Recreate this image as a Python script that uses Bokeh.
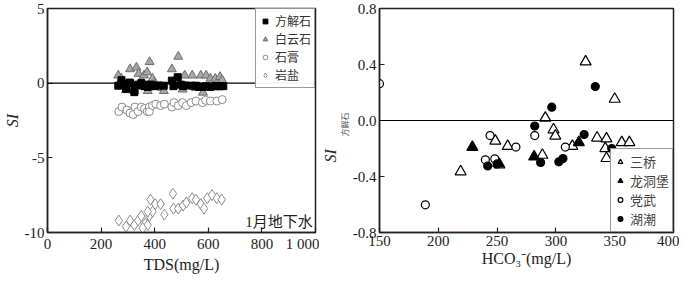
from bokeh.plotting import figure
from bokeh.models import Span, Label, Legend, LegendItem, FixedTicker, Title
from bokeh.layouts import row
from bokeh.embed import file_html
from bokeh.resources import INLINE

# ---------------- Panel (a) data ----------------
calcite_tds = [264, 276, 288, 293, 306, 308, 324, 324, 338, 348, 350, 362, 366, 374, 384, 388, 400, 414, 434,
               464, 470, 486, 498, 506, 513, 540, 554, 566, 580, 592, 608, 626, 636, 644, 656]
calcite_si = [-0.17, 0.2, -0.1, -0.38, 0.04, 0.0, -0.38, -0.6, -0.1, -0.15, 0.0, -0.2, -0.1, -0.25, -0.2, -0.1,
              -0.2, -0.15, -0.17, 0.17, -0.2, 0.4, -0.1, -0.2, -0.15, -0.17, -0.17, -0.25, -0.25, -0.2, -0.25,
              -0.2, -0.2, -0.2, -0.2]

dolomite_tds = [264, 276, 293, 308, 324, 332, 340, 350, 360, 365, 372, 374, 381, 384, 392, 400, 428, 434,
                464, 470, 488, 504, 512, 540, 554, 572, 580, 592, 608, 626, 644, 652]
dolomite_si = [0.52, 0.3, -0.46, 0.94, -0.52, 1.05, 0.63, 0.2, 0.52, -0.2, 0.73, -0.52, 1.42, -0.2, 0.31, 0.0,
               -0.31, -0.52, 0.94, 0.1, 1.78, -0.42, 0.52, 0.52, -0.31, 0.52, -0.63, 0.52, 0.31, 0.31, 0.42, 0.2]

gypsum_tds = [266, 278, 296, 308, 320, 326, 338, 350, 362, 372, 380, 380, 392, 404, 422, 436, 464, 472, 488,
              504, 518, 536, 554, 578, 590, 608, 632, 652]
gypsum_si = [-1.9, -1.6, -1.8, -2.0, -2.1, -1.6, -1.9, -1.6, -1.7, -1.9, -1.6, -1.9, -1.5, -1.4, -1.5, -1.4,
             -1.6, -1.3, -1.5, -1.3, -1.5, -1.3, -1.2, -1.3, -1.15, -1.2, -1.2, -1.1]

halite_tds = [266, 293, 308, 324, 338, 350, 365, 374, 380, 392, 384, 402, 422, 436, 468, 470, 488, 506, 518,
              540, 554, 572, 584, 596, 614, 632, 650, 374, 355]
halite_si = [-9.2, -9.6, -9.2, -9.5, -9.2, -8.9, -9.4, -9.5, -8.9, -8.6, -7.8, -8.1, -8.1, -8.8, -7.4, -8.4,
             -8.4, -8.2, -8.0, -7.7, -7.8, -8.1, -8.4, -7.7, -7.5, -7.7, -7.8, -8.6, -9.7]

x_ticks_a = [0, 200, 400, 600, 800, 1000]
x_labels_a = ["0", "200", "400", "600", "800", "1 000"]
y_ticks_a = [-10, -5, 0, 5]
y_labels_a = ["-10", "-5", "0", "5"]

# ---------------- Panel (b) data ----------------
sanqiao_hco3 = [219, 248.5, 252, 259, 288.5, 291, 298, 299.5, 314, 325.3, 335, 343, 342, 343, 350, 356, 362.5]
sanqiao_si = [-0.365, -0.146, -0.315, -0.184, -0.247, 0.018, -0.065, -0.11, -0.184, 0.42, -0.124, -0.13,
              -0.2, -0.27, 0.153, -0.157, -0.157]

longdongbao_hco3 = [229, 251, 281.5, 319.5]
longdongbao_si = [-0.19, -0.305, -0.259, -0.157]

dangwu_hco3 = [150, 189, 244, 240, 248, 266, 282, 308]
dangwu_si = [0.263, -0.602, -0.108, -0.281, -0.274, -0.19, -0.108, -0.19]

huchao_hco3 = [242, 250, 282, 287, 296.5, 302.5, 306, 324, 333.5, 347.5]
huchao_si = [-0.325, -0.31, -0.04, -0.30, 0.095, -0.295, -0.272, -0.10, 0.243, -0.20]

x_ticks_b = [150, 200, 250, 300, 350, 400]
x_labels_b = ["150", "200", "250", "300", "350", "400"]
y_ticks_b = [-0.8, -0.4, 0.0, 0.4, 0.8]
y_labels_b = ["-0.8", "-0.4", "0.0", "0.4", "0.8"]

SERIF = "Liberation Serif"
MIXED = "'Liberation Serif', 'Noto Sans CJK SC'"
FH = 224


def style(p, xt, xl, yt, yl):
    p.grid.visible = False
    p.outline_line_color = "#222222"
    p.outline_line_width = 1.5
    p.xaxis.ticker = FixedTicker(ticks=xt)
    p.yaxis.ticker = FixedTicker(ticks=yt)
    p.xaxis.major_label_overrides = {t: l for t, l in zip(xt, xl)}
    p.yaxis.major_label_overrides = {t: l for t, l in zip(yt, yl)}
    for ax in (p.xaxis[0], p.yaxis[0]):
        ax.axis_line_color = "#222222"
        ax.axis_line_width = 1.5
        ax.major_tick_in = 5
        ax.major_tick_out = 0
        ax.minor_tick_line_color = None
        ax.major_tick_line_color = "#222222"
        ax.major_tick_line_width = 1.2
        ax.major_label_text_font = SERIF
        ax.major_label_text_font_size = "15px"
        ax.major_label_text_line_height = 1.0
        ax.major_label_text_color = "#222222"
        ax.axis_label_text_font = SERIF
        ax.axis_label_text_font_size = "16px"
        ax.axis_label_text_line_height = 1.0
        ax.axis_label_text_font_style = "normal"
        ax.axis_label_text_color = "#222222"
        ax.major_label_standoff = 3
        ax.axis_label_standoff = 1


def legend_style(leg, size, row_h, spacing, padding):
    leg.margin = 0
    leg.padding = padding
    leg.spacing = spacing
    leg.label_height = row_h
    leg.glyph_height = row_h
    leg.glyph_width = 12
    leg.label_standoff = 4
    leg.label_text_font = MIXED
    leg.label_text_font_size = size
    leg.label_text_line_height = 1.0
    leg.label_text_color = "#333333"
    leg.border_line_color = "#333333"
    leg.border_line_width = 1.5


# ---------------- Panel (a) ----------------
p1 = figure(frame_width=268, frame_height=FH, x_range=(0, 1000), y_range=(-10, 5),
            output_backend="svg", toolbar_location=None,
            min_border_left=10, min_border_right=4, min_border_top=8, min_border_bottom=10)
style(p1, x_ticks_a, x_labels_a, y_ticks_a, y_labels_a)
p1.xaxis.axis_label = "TDS(mg/L)"
p1.yaxis.axis_label = "SI"
p1.yaxis.axis_label_text_font_style = "italic"

p1.add_layout(Span(location=0, dimension="width", line_color="black", line_width=1.2))

r_hal = p1.scatter(halite_tds, halite_si, marker="diamond", size=11, fill_color="white",
                   line_color="#8c8c8c", line_width=1)
r_gyp = p1.scatter(gypsum_tds, gypsum_si, marker="circle", size=8, fill_color="white",
                   line_color="#8c8c8c", line_width=1)
r_dol = p1.scatter(dolomite_tds, dolomite_si, marker="triangle", size=9, fill_color="#a6a6a6",
                   line_color="#6e6e6e", line_width=1)
r_cal = p1.scatter(calcite_tds, calcite_si, marker="square", size=7, fill_color="black",
                   line_color="black")

leg1 = Legend(items=[LegendItem(label="方解石", renderers=[r_cal]),
                     LegendItem(label="白云石", renderers=[r_dol]),
                     LegendItem(label="石膏", renderers=[r_gyp]),
                     LegendItem(label="岩盐", renderers=[r_hal])],
              location="top_right")
legend_style(leg1, "12px", 12, -7, 3)
p1.add_layout(leg1)

p1.add_layout(Label(x=6, y=-5, x_units="screen", y_units="screen", text="(a)",
                    text_font=SERIF, text_font_size="15px", text_color="#222222",
                    text_baseline="top"))
p1.add_layout(Label(x=990, y=-9.85, text="1月地下水", text_font=MIXED, text_font_size="15px",
                    text_color="#222222", text_align="right", text_baseline="bottom"))

# ---------------- Panel (b) ----------------
p2 = figure(frame_width=294, frame_height=FH, x_range=(150, 400), y_range=(-0.8, 0.8),
            output_backend="svg", toolbar_location=None,
            min_border_left=10, min_border_right=6, min_border_top=8, min_border_bottom=10)
style(p2, x_ticks_b, x_labels_b, y_ticks_b, y_labels_b)
p2.xaxis.axis_label = "HCO₃⁻(mg/L)"

p2.add_layout(Span(location=0, dimension="width", line_color="black", line_width=1.2))

r_sq = p2.scatter(sanqiao_hco3, sanqiao_si, marker="triangle", size=11, fill_color="white",
                  line_color="black", line_width=1.2)
r_ldb = p2.scatter(longdongbao_hco3, longdongbao_si, marker="triangle", size=11, fill_color="black",
                   line_color="black", line_width=1.2)
r_dw = p2.scatter(dangwu_hco3, dangwu_si, marker="circle", size=8, fill_color="white",
                  line_color="black", line_width=1.2)
r_hc = p2.scatter(huchao_hco3, huchao_si, marker="circle", size=8, fill_color="black",
                  line_color="black", line_width=1.2)

leg2 = Legend(items=[LegendItem(label="三桥", renderers=[r_sq]),
                     LegendItem(label="龙洞堡", renderers=[r_ldb]),
                     LegendItem(label="党武", renderers=[r_dw]),
                     LegendItem(label="湖潮", renderers=[r_hc])],
              location="bottom_right")
legend_style(leg2, "13px", 15, -2, 3)
leg2.label_text_color = "#444444"
p2.add_layout(leg2)

p2.add_layout(Label(x=6, y=-5, x_units="screen", y_units="screen", text="(b)",
                    text_font=SERIF, text_font_size="15px", text_color="#222222",
                    text_baseline="top"))

t_sub = Title(text="方解石", align="left", offset=96, standoff=0, text_line_height=1.0,
              text_font=MIXED, text_font_size="8px", text_font_style="normal", text_color="#555555")
p2.add_layout(t_sub, "left")
t_si = Title(text="SI", align="left", offset=70, standoff=0, text_line_height=1.0,
             text_font=SERIF, text_font_size="16px", text_font_style="italic", text_color="#222222")
p2.add_layout(t_si, "left")

layout = row(p1, p2)
open("out.html", "w").write(file_html(layout, INLINE))
